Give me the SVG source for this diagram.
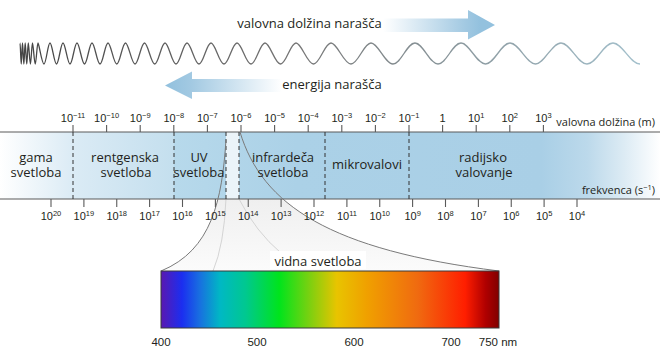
<svg xmlns="http://www.w3.org/2000/svg" width="660" height="363" viewBox="0 0 660 363">
<defs>
<linearGradient id="waveG" gradientUnits="userSpaceOnUse" x1="20" y1="0" x2="640" y2="0">
<stop offset="0" stop-color="#444"/><stop offset="0.45" stop-color="#767676"/><stop offset="1" stop-color="#a3c0cc"/>
</linearGradient>
<linearGradient id="arrR" gradientUnits="userSpaceOnUse" x1="383" y1="0" x2="480" y2="0">
<stop offset="0" stop-color="#fff"/><stop offset="0.85" stop-color="#a2c9e2"/><stop offset="1" stop-color="#93c1de"/>
</linearGradient>
<linearGradient id="arrL" gradientUnits="userSpaceOnUse" x1="282" y1="0" x2="168" y2="0">
<stop offset="0" stop-color="#fff"/><stop offset="0.8" stop-color="#a2c9e2"/><stop offset="1" stop-color="#93c1de"/>
</linearGradient>
<linearGradient id="bandG" gradientUnits="userSpaceOnUse" x1="0" y1="0" x2="660" y2="0">
<stop offset="0" stop-color="#ffffff"/><stop offset="0.11" stop-color="#dbebf5"/><stop offset="0.263" stop-color="#c4dfee"/><stop offset="0.264" stop-color="#b7d9eb"/><stop offset="0.45" stop-color="#abd1e7"/><stop offset="0.82" stop-color="#a9cfe6"/><stop offset="0.89" stop-color="#bcd9eb"/><stop offset="0.945" stop-color="#dcebf4"/><stop offset="1" stop-color="#ffffff"/>
</linearGradient>
<linearGradient id="wedgeG" gradientUnits="userSpaceOnUse" x1="0" y1="199" x2="0" y2="271">
<stop offset="0" stop-color="#efefef"/><stop offset="1" stop-color="#fbfbfb"/>
</linearGradient>
<linearGradient id="specG" gradientUnits="userSpaceOnUse" x1="161" y1="0" x2="499" y2="0">
<stop offset="0" stop-color="#5a18b0"/><stop offset="0.062" stop-color="#1b2ef0"/><stop offset="0.115" stop-color="#1870e0"/><stop offset="0.175" stop-color="#00b8c4"/><stop offset="0.25" stop-color="#00c890"/><stop offset="0.35" stop-color="#00e41c"/><stop offset="0.44" stop-color="#7cd010"/><stop offset="0.52" stop-color="#e8c400"/><stop offset="0.61" stop-color="#f0a000"/><stop offset="0.76" stop-color="#f06a10"/><stop offset="0.9" stop-color="#ff1e00"/><stop offset="0.96" stop-color="#b00000"/><stop offset="1" stop-color="#800000"/>
</linearGradient>
</defs>
<style>
.lbl{font-family:"Open Sans","Noto Sans",sans-serif;fill:#231f20}
.num{font-family:"Liberation Sans",Arial,sans-serif;font-size:11px;fill:#231f20;text-anchor:middle}
.nm{font-family:"Liberation Sans",Arial,sans-serif;font-size:11.5px;fill:#231f20;text-anchor:middle}
.sup{font-size:7.5px}
.tick{stroke:#5a5a5a;stroke-width:1.1}
.dash{stroke:#333;stroke-width:1;stroke-dasharray:4 3}
.edge{stroke:#5a5a5a;stroke-width:1.2;fill:none}
</style>

<g id="wave">
<path fill="none" stroke="url(#waveG)" stroke-width="1.3" d="M20,43 C20.45,43 20.8,64 21.25,64 S22.05,43 22.5,43 S23.36,64 23.85,64 S24.71,43 25.2,43 S26.19,64 26.75,64 S27.74,43 28.3,43 S29.64,64 30.4,64 S31.74,43 32.5,43 S34.25,64 35.25,64 S37,43 38,43 S41.82,64 44,64 S47.82,43 50,43 S54.13,64 56.5,64 S60.63,43 63,43 S67.45,64 70,64 S74.45,43 77,43 S81.77,64 84.5,64 S89.27,43 92,43 S97.09,64 100,64 S105.09,43 108,43 S113.57,64 116.75,64 S122.32,43 125.5,43 S131.54,64 135,64 S141.04,43 144.5,43 S151.02,64 154.75,64 S161.27,43 165,43 S172,64 176,64 S183,43 187,43 S194.63,64 199,64 S206.63,43 211,43 S219.27,64 224,64 S232.27,43 237,43 S245.9,64 251,64 S259.9,43 265,43 S274.86,64 280.5,64 S290.36,43 296,43 S307.13,64 313.5,64 S324.63,43 331,43 S343.72,64 351,64 S363.72,43 371,43 S384.99,64 393,64 S406.99,43 415,43 S429.63,64 438,64 S452.63,43 461,43 S476.58,64 485.5,64 S501.08,43 510,43 S526.72,64 535.5,64 S551.72,43 561,43 S577.54,64 587,64 S603.54,43 613,43 S630.17,64 640,64"/>
</g>

<g id="arrow-wavelength">
<path fill="url(#arrR)" d="M383,18.5 L468,18.5 L468,10 L495,25 L468,39.5 L468,32 L383,32 Z"/>
<text class="lbl" x="309.5" y="28" font-size="13" text-anchor="middle">valovna dolžina narašča</text>
</g>
<g id="arrow-energy">
<path fill="url(#arrL)" d="M282,79 L192,79 L192,71.5 L165,85.5 L192,99 L192,92 L282,92 Z"/>
<text class="lbl" x="332" y="89" font-size="13" text-anchor="middle">energija narašča</text>
</g>

<g id="visible-wedge">
<path fill="url(#wedgeG)" d="M226,140 C222,200 212,250 161,271 L499,271 C330,250 262,205 240,132 Z"/>
<path fill="none" stroke="#d4d4d4" stroke-width="1" d="M226,199 Q224,245 213,271"/>
<path fill="none" stroke="#d4d4d4" stroke-width="1" d="M239,199 Q256,232 281,253"/>
</g>

<g id="band">
<rect x="0" y="132" width="660" height="67" fill="url(#bandG)"/>
<rect x="226" y="132" width="13" height="67" fill="#ebf4f9"/>
<line class="edge" x1="0" y1="132" x2="660" y2="132"/>
<line class="edge" x1="0" y1="199" x2="660" y2="199"/>
</g>

<g id="dividers">
<line class="dash" x1="73" y1="132" x2="73" y2="199"/>
<line class="dash" x1="174" y1="132" x2="174" y2="199"/>
<line class="dash" x1="226" y1="132" x2="226" y2="199"/>
<line class="dash" x1="239" y1="132" x2="239" y2="199"/>
<line class="dash" x1="325" y1="132" x2="325" y2="199"/>
<line class="dash" x1="409" y1="132" x2="409" y2="199"/>
</g>

<g id="connectors">
<path fill="none" stroke="#7a7a7a" stroke-width="1" d="M226,140 C222,200 212,250 161,271"/>
<path fill="none" stroke="#7a7a7a" stroke-width="1" d="M240,132 C262,205 330,250 499,271"/>
</g>

<g id="wavelength-scale">
<g class="tick">
<line x1="73" y1="125" x2="73" y2="132"/><line x1="106.6" y1="125" x2="106.6" y2="132"/><line x1="140.2" y1="125" x2="140.2" y2="132"/><line x1="173.8" y1="125" x2="173.8" y2="132"/><line x1="207.4" y1="125" x2="207.4" y2="132"/><line x1="241" y1="125" x2="241" y2="132"/><line x1="274.6" y1="125" x2="274.6" y2="132"/><line x1="308.2" y1="125" x2="308.2" y2="132"/><line x1="341.8" y1="125" x2="341.8" y2="132"/><line x1="375.4" y1="125" x2="375.4" y2="132"/><line x1="409" y1="125" x2="409" y2="132"/><line x1="442.6" y1="125" x2="442.6" y2="132"/><line x1="476.2" y1="125" x2="476.2" y2="132"/><line x1="509.8" y1="125" x2="509.8" y2="132"/><line x1="543.4" y1="125" x2="543.4" y2="132"/>
</g>
<text class="num" x="73" y="122">10<tspan class="sup" dy="-4.5">−11</tspan></text>
<text class="num" x="106.6" y="122">10<tspan class="sup" dy="-4.5">−10</tspan></text>
<text class="num" x="140.2" y="122">10<tspan class="sup" dy="-4.5">−9</tspan></text>
<text class="num" x="173.8" y="122">10<tspan class="sup" dy="-4.5">−8</tspan></text>
<text class="num" x="207.4" y="122">10<tspan class="sup" dy="-4.5">−7</tspan></text>
<text class="num" x="241" y="122">10<tspan class="sup" dy="-4.5">−6</tspan></text>
<text class="num" x="274.6" y="122">10<tspan class="sup" dy="-4.5">−5</tspan></text>
<text class="num" x="308.2" y="122">10<tspan class="sup" dy="-4.5">−4</tspan></text>
<text class="num" x="341.8" y="122">10<tspan class="sup" dy="-4.5">−3</tspan></text>
<text class="num" x="375.4" y="122">10<tspan class="sup" dy="-4.5">−2</tspan></text>
<text class="num" x="409" y="122">10<tspan class="sup" dy="-4.5">−1</tspan></text>
<text class="num" x="442.6" y="122">1</text>
<text class="num" x="476.2" y="122">10<tspan class="sup" dy="-4.5">1</tspan></text>
<text class="num" x="509.8" y="122">10<tspan class="sup" dy="-4.5">2</tspan></text>
<text class="num" x="543.4" y="122">10<tspan class="sup" dy="-4.5">3</tspan></text>
<text class="lbl" x="655" y="126" font-size="11" text-anchor="end">valovna dolžina (m)</text>
</g>

<g id="frequency-scale">
<g class="tick">
<line x1="51" y1="199" x2="51" y2="207"/><line x1="83.9" y1="199" x2="83.9" y2="207"/><line x1="116.75" y1="199" x2="116.75" y2="207"/><line x1="149.6" y1="199" x2="149.6" y2="207"/><line x1="182.5" y1="199" x2="182.5" y2="207"/><line x1="215.4" y1="199" x2="215.4" y2="207"/><line x1="248.25" y1="199" x2="248.25" y2="207"/><line x1="281.1" y1="199" x2="281.1" y2="207"/><line x1="314" y1="199" x2="314" y2="207"/><line x1="346.9" y1="199" x2="346.9" y2="207"/><line x1="379.75" y1="199" x2="379.75" y2="207"/><line x1="412.6" y1="199" x2="412.6" y2="207"/><line x1="445.5" y1="199" x2="445.5" y2="207"/><line x1="478.4" y1="199" x2="478.4" y2="207"/><line x1="511.25" y1="199" x2="511.25" y2="207"/><line x1="544.1" y1="199" x2="544.1" y2="207"/><line x1="577" y1="199" x2="577" y2="207"/>
</g>
<text class="num" x="51" y="220">10<tspan class="sup" dy="-4.5">20</tspan></text>
<text class="num" x="83.9" y="220">10<tspan class="sup" dy="-4.5">19</tspan></text>
<text class="num" x="116.75" y="220">10<tspan class="sup" dy="-4.5">18</tspan></text>
<text class="num" x="149.6" y="220">10<tspan class="sup" dy="-4.5">17</tspan></text>
<text class="num" x="182.5" y="220">10<tspan class="sup" dy="-4.5">16</tspan></text>
<text class="num" x="215.4" y="220">10<tspan class="sup" dy="-4.5">15</tspan></text>
<text class="num" x="248.25" y="220">10<tspan class="sup" dy="-4.5">14</tspan></text>
<text class="num" x="281.1" y="220">10<tspan class="sup" dy="-4.5">13</tspan></text>
<text class="num" x="314" y="220">10<tspan class="sup" dy="-4.5">12</tspan></text>
<text class="num" x="346.9" y="220">10<tspan class="sup" dy="-4.5">11</tspan></text>
<text class="num" x="379.75" y="220">10<tspan class="sup" dy="-4.5">10</tspan></text>
<text class="num" x="412.6" y="220">10<tspan class="sup" dy="-4.5">9</tspan></text>
<text class="num" x="445.5" y="220">10<tspan class="sup" dy="-4.5">8</tspan></text>
<text class="num" x="478.4" y="220">10<tspan class="sup" dy="-4.5">7</tspan></text>
<text class="num" x="511.25" y="220">10<tspan class="sup" dy="-4.5">6</tspan></text>
<text class="num" x="544.1" y="220">10<tspan class="sup" dy="-4.5">5</tspan></text>
<text class="num" x="577" y="220">10<tspan class="sup" dy="-4.5">4</tspan></text>
<text class="lbl" x="655" y="194" font-size="11" text-anchor="end">frekvenca (s<tspan font-size="7.5" dy="-4">−1</tspan><tspan dy="4">)</tspan></text>
</g>

<g id="region-gamma"><text class="lbl" font-size="13" text-anchor="middle" x="36" y="162">gama</text><text class="lbl" font-size="13" text-anchor="middle" x="36" y="176.5">svetloba</text></g>
<g id="region-xray"><text class="lbl" font-size="13" text-anchor="middle" x="125" y="162">rentgenska</text><text class="lbl" font-size="13" text-anchor="middle" x="126" y="176.5">svetloba</text></g>
<g id="region-uv"><text class="lbl" font-size="13" text-anchor="middle" x="199" y="162">UV</text><text class="lbl" font-size="13" text-anchor="middle" x="199" y="176.5">svetloba</text></g>
<g id="region-ir"><text class="lbl" font-size="13" text-anchor="middle" x="283" y="162">infrardeča</text><text class="lbl" font-size="13" text-anchor="middle" x="283" y="176.5">svetloba</text></g>
<g id="region-micro"><text class="lbl" font-size="13" text-anchor="middle" x="367" y="169">mikrovalovi</text></g>
<g id="region-radio"><text class="lbl" font-size="13" text-anchor="middle" x="483" y="162">radijsko</text><text class="lbl" font-size="13" text-anchor="middle" x="484" y="176.5">valovanje</text></g>

<g id="visible-spectrum">
<rect x="270" y="251" width="96" height="18" fill="#fff"/>
<text class="lbl" x="318" y="266" font-size="13" text-anchor="middle">vidna svetloba</text>
<rect x="161" y="271" width="338" height="57" fill="url(#specG)" stroke="#3a3a3a" stroke-width="1"/>
<text class="nm" x="161" y="346">400</text>
<text class="nm" x="257" y="346">500</text>
<text class="nm" x="354" y="346">600</text>
<text class="nm" x="451" y="346">700</text>
<text class="nm" x="498" y="346">750 nm</text>
</g>
</svg>
